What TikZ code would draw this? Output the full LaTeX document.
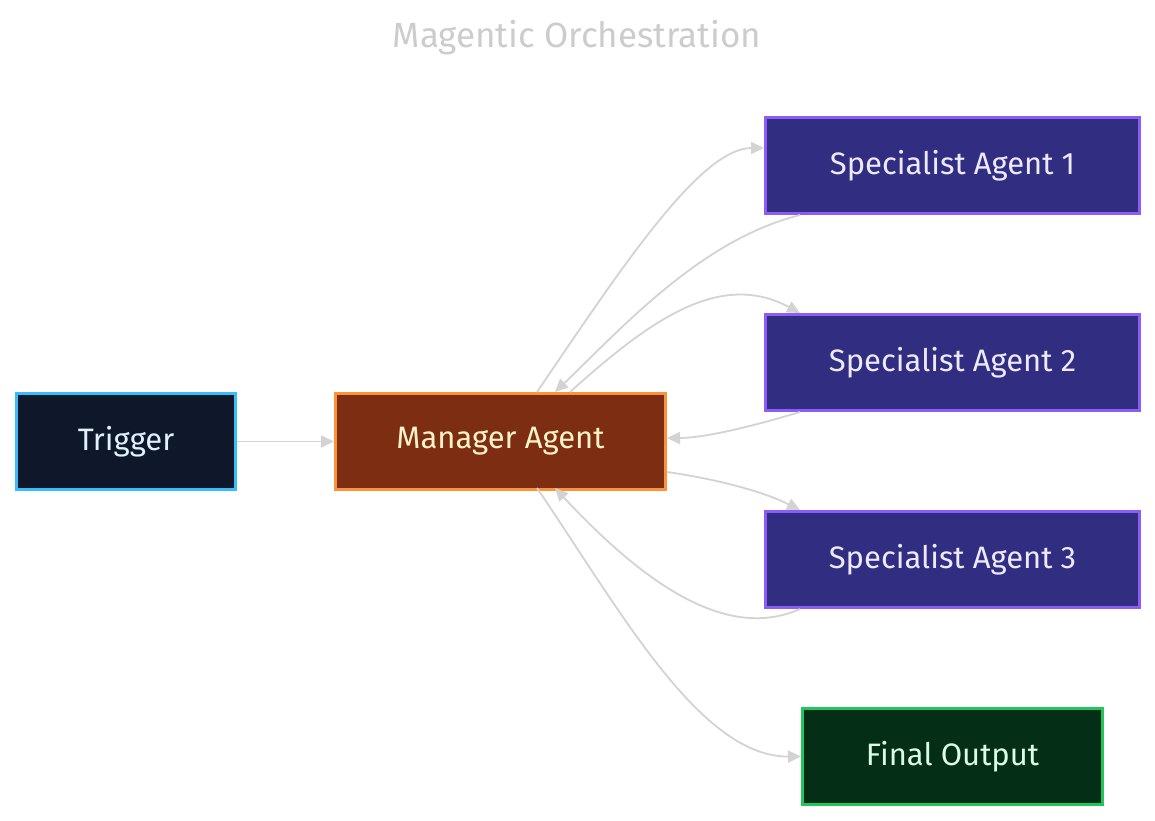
\documentclass[tikz,border=0pt]{standalone}
\usepackage{fontspec}
\setmainfont{Fira Sans}
\usetikzlibrary{arrows.meta}
\definecolor{edge}{HTML}{D3D3D3}
\definecolor{ttl}{HTML}{CCCCCC}
\definecolor{tf}{HTML}{0F172A}\definecolor{td}{HTML}{38BDF8}\definecolor{tt}{HTML}{E0F2FE}
\definecolor{mf}{HTML}{7C2D12}\definecolor{md}{HTML}{FB923C}\definecolor{mt}{HTML}{FEF3C7}
\definecolor{sf}{HTML}{312E81}\definecolor{sd}{HTML}{8B5CF6}\definecolor{st}{HTML}{EDE9FE}
\definecolor{ff}{HTML}{052E16}\definecolor{fd}{HTML}{22C55E}\definecolor{ft}{HTML}{DCFCE7}
\tikzset{
 box/.style={draw, line width=3pt, inner sep=0pt, anchor=north west, font=\fontsize{31}{36}\selectfont},
 e/.style={draw=edge, line width=1.8pt, -{Triangle[length=13pt,width=12pt,fill=edge]}},
}
\begin{document}
\begin{tikzpicture}[x=1pt,y=-1pt]
\useasboundingbox (0,0) rectangle (1155,820);
\node[text=ttl, font=\fontsize{35}{40}\selectfont] (title) at (577,38) {Magentic Orchestration};
\node[box, fill=tf, draw=td, text=tt, minimum width=219pt, minimum height=96pt] (trig) at (15,392) {Trigger};
\node[box, fill=mf, draw=md, text=mt, minimum width=330pt, minimum height=96pt] (man) at (334,392) {Manager Agent};
\foreach \i/\y in {1/116,2/313,3/510}{
\node[box, fill=sf, draw=sd, text=st, minimum width=374pt, minimum height=96pt] (s\i) at (764,\y) {Specialist Agent \i};
}
\node[box, fill=ff, draw=fd, text=ft, minimum width=300pt, minimum height=96pt] (fin) at (801,707) {Final Output};
\coordinate (mt1) at (537,392); \coordinate (mt2) at (555,392); \coordinate (mt3) at (570,392);
\coordinate (mb1) at (537,488); \coordinate (mb2) at (555,488);
\draw[e] (trig.east) -- (man.west);
\draw[e] (mt1) .. controls (620,270) and (700,148) .. (s1.west |- 0,148);
\draw[e] ([xshift=36pt]s1.south west) .. controls (700,240) and (620,330) .. (mt2);
\draw[e] (mt3) .. controls (650,320) and (720,270) .. ([xshift=36pt]s2.north west);
\draw[e] ([xshift=36pt]s2.south west) .. controls (740,430) and (700,438) .. (man.east |- 0,438);
\draw[e] (man.east |- 0,472) .. controls (710,478) and (760,490) .. ([xshift=36pt]s3.north west);
\draw[e] ([xshift=36pt]s3.south west) .. controls (730,640) and (650,590) .. (mb2);
\draw[e] (mb1) .. controls (620,610) and (700,757) .. (fin.west);
\end{tikzpicture}
\end{document}
